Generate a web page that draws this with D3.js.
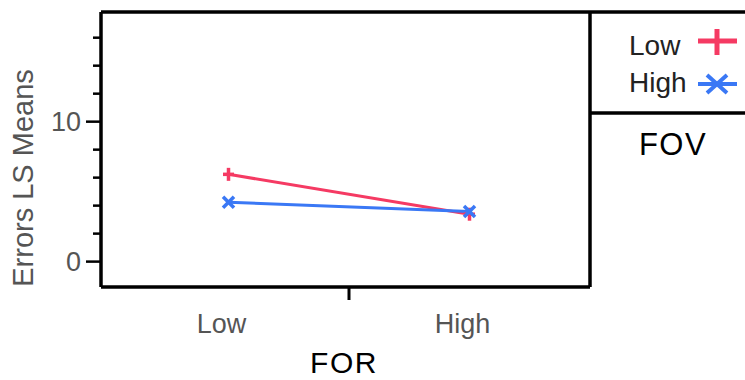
<!DOCTYPE html>
<html><head><meta charset="utf-8">
<script src="https://cdn.jsdelivr.net/npm/d3@7"></script>
<style>body{margin:0;background:#fff}svg{display:block}text{font-family:"Liberation Sans",Arial,sans-serif}</style>
</head><body>
<script>
const categories = ["Low", "High"];           // FOR levels
const seriesNames = ["Low", "High"];          // FOV levels
const lowFOV  = [6.2, 3.35];
const highFOV = [4.2, 3.55];
const majorTicks = [0, 10];
const minorTicks = [2, 4, 6, 8, 12, 14, 16];
const colors = ["#f53a63", "#3a78f5"];

const W = 745, H = 380;
const L = 101, R = 590, T = 12, B = 287;
const svg = d3.select("body").append("svg").attr("width", W).attr("height", H);

const x = d3.scalePoint().domain(categories).range([108, 590]).padding(0.5);
const y = d3.scaleLinear().domain([-1.85, 17.8]).range([B, T]);

// Y axis ticks
const yMaj = d3.axisLeft(y).tickValues(majorTicks).tickSize(15).tickPadding(5).tickFormat(d3.format("d"));
const gy = svg.append("g").attr("transform", `translate(${L},0)`).call(yMaj);
gy.select(".domain").remove();
gy.selectAll("line").attr("stroke", "#000").attr("stroke-width", 2.5);
gy.selectAll("text").attr("font-size", 27).attr("fill", "#555").attr("dy", "0.36em");
const yMin = d3.axisLeft(y).tickValues(minorTicks).tickSize(8).tickFormat("");
const gy2 = svg.append("g").attr("transform", `translate(${L},0)`).call(yMin);
gy2.select(".domain").remove();
gy2.selectAll("line").attr("stroke", "#000").attr("stroke-width", 2.5);

// X axis: one tick midway between categories, labels at categories
const mid = (x(categories[0]) + x(categories[1])) / 2;
svg.append("line").attr("x1", mid).attr("x2", mid).attr("y1", B).attr("y2", B + 13)
  .attr("stroke", "#000").attr("stroke-width", 3);
svg.append("g").selectAll("text").data(categories).join("text")
  .attr("x", d => x(d) - 7).attr("y", 333).attr("text-anchor", "middle")
  .attr("font-size", 27).attr("fill", "#555").text(d => d);

// Frame
const frame = svg.append("g").attr("stroke", "#000").attr("stroke-width", 3.5).attr("fill", "none");
frame.append("line").attr("x1", L).attr("x2", W).attr("y1", T).attr("y2", T);
frame.append("line").attr("x1", L).attr("x2", L).attr("y1", T).attr("y2", B);
frame.append("line").attr("x1", L).attr("x2", R).attr("y1", B).attr("y2", B);
frame.append("line").attr("x1", R).attr("x2", R).attr("y1", T).attr("y2", B);
frame.append("line").attr("x1", R).attr("x2", W).attr("y1", 113).attr("y2", 113);

// Titles
svg.append("text").attr("transform", `translate(33,178) rotate(-90)`).attr("text-anchor", "middle")
  .attr("font-size", 29).attr("fill", "#555").text("Errors LS Means");
svg.append("text").attr("x", 344).attr("y", 373).attr("text-anchor", "middle")
  .attr("font-size", 30).attr("letter-spacing", 1.5).attr("fill", "#000").text("FOR");
svg.append("text").attr("x", 673).attr("y", 155).attr("text-anchor", "middle")
  .attr("font-size", 31).attr("letter-spacing", 1.5).attr("fill", "#000").text("FOV");

// Lines
const series = [lowFOV, highFOV];
const line = d3.line().x((d, i) => x(categories[i])).y(d => y(d));
series.forEach((s, k) => {
  svg.append("path").attr("d", line(s)).attr("fill", "none")
    .attr("stroke", colors[k]).attr("stroke-width", 3);
});
// Markers
const m = 5.5;
series.forEach((s, k) => {
  s.forEach((v, i) => {
    const cx = x(categories[i]), cy = y(v);
    const g = svg.append("g").attr("stroke", colors[k]).attr("stroke-width", 3.5);
    if (k === 0) {
      g.append("line").attr("x1", cx - m).attr("x2", cx + m).attr("y1", cy).attr("y2", cy);
      g.append("line").attr("x1", cx).attr("x2", cx).attr("y1", cy - m - 1).attr("y2", cy + m + 1);
    } else {
      g.append("line").attr("x1", cx - m).attr("x2", cx + m).attr("y1", cy - m).attr("y2", cy + m);
      g.append("line").attr("x1", cx - m).attr("x2", cx + m).attr("y1", cy + m).attr("y2", cy - m);
    }
  });
});

// Legend
const leg = svg.append("g");
seriesNames.forEach((n, k) => {
  const ty = 55 + k * 37;
  leg.append("text").attr("x", 629).attr("y", ty).attr("text-anchor", "start")
    .attr("font-size", 28).attr("fill", "#222").text(n);
});
const lg1 = leg.append("g").attr("stroke", colors[0]).attr("stroke-width", 5);
lg1.append("line").attr("x1", 698).attr("x2", 737).attr("y1", 41).attr("y2", 41);
lg1.append("line").attr("x1", 717).attr("x2", 717).attr("y1", 29).attr("y2", 55);
const lg2 = leg.append("g").attr("stroke", colors[1]).attr("stroke-width", 4);
lg2.append("line").attr("x1", 698).attr("x2", 737).attr("y1", 84).attr("y2", 84);
lg2.append("line").attr("x1", 707).attr("x2", 727).attr("y1", 75).attr("y2", 93);
lg2.append("line").attr("x1", 707).attr("x2", 727).attr("y1", 93).attr("y2", 75);
</script>
</body></html>
